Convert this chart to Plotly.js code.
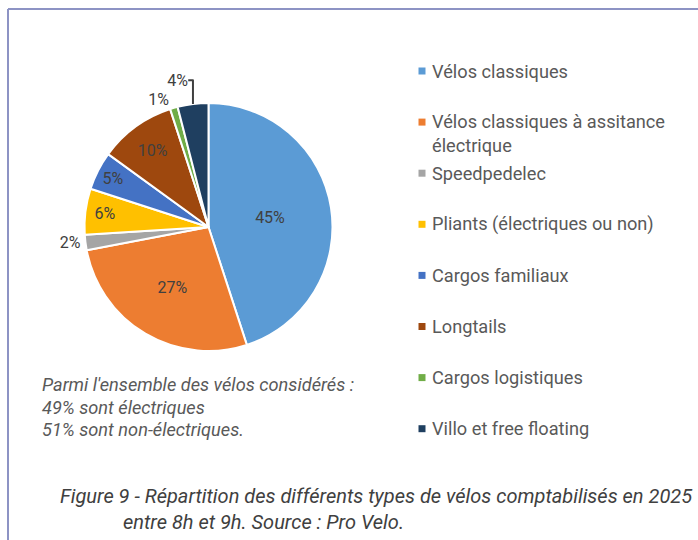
<!DOCTYPE html>
<html>
<head>
<meta charset="utf-8">
<script src="https://cdn.plot.ly/plotly-3.0.1.min.js"></script>
<style>html,body{margin:0;padding:0;background:#fff;}#chart{width:698px;height:540px;}</style>
</head>
<body>
<div id="chart"></div>
<script>
// ---- data ----
const categories = [
  "Vélos classiques",
  "Vélos classiques à assitance électrique",
  "Speedpedelec",
  "Pliants (électriques ou non)",
  "Cargos familiaux",
  "Longtails",
  "Cargos logistiques",
  "Villo et free floating"
];
const legendLabels = [
  "Vélos classiques",
  "Vélos classiques à assitance<br>électrique",
  "Speedpedelec",
  "Pliants (électriques ou non)",
  "Cargos familiaux",
  "Longtails",
  "Cargos logistiques",
  "Villo et free floating"
];
const shares = [45, 27, 2, 6, 5, 10, 1, 4];
const colors = ["#5B9BD5", "#ED7D31", "#A5A5A5", "#FFC000", "#4472C4", "#9E480E", "#70AD47", "#1F3F60"];
const labelPositions = ["inside", "inside", "outside", "inside", "inside", "inside", "outside", "outside"];
const noteLines = [
  "Parmi l'ensemble des vélos considérés :",
  "49% sont électriques",
  "51% sont non-électriques."
];
const captionLines = [
  "Figure 9 - Répartition des différents types de vélos comptabilisés en 2025",
  "entre 8h et 9h. Source : Pro Velo."
];

// ---- layout helpers ----
const W = 698, H = 540;
const px = x => x / W;
const py = y => 1 - y / H;
const FONT = "Roboto, 'Open Sans', sans-serif";

const cx = 208.5, cy = 227, r = 124;

const trace = {
  type: "pie",
  labels: categories,
  values: shares,
  sort: false,
  direction: "clockwise",
  rotation: 0,
  marker: { colors: colors, line: { color: "#ffffff", width: 2 } },
  textinfo: "percent",
  textposition: labelPositions,
  insidetextorientation: "horizontal",
  textfont: { family: FONT, size: 16, color: "#404040" },
  insidetextfont: { family: FONT, size: 16, color: "#404040" },
  outsidetextfont: { family: FONT, size: 16, color: "#404040" },
  domain: { x: [px(cx - r), px(cx + r)], y: [py(cy + r), py(cy - r)] },
  showlegend: false,
  hoverinfo: "label+percent"
};

const shapes = [
  { type: "line", xref: "paper", yref: "paper", x0: px(8), x1: px(698), y0: py(9), y1: py(9), line: { color: "#8D93C4", width: 2 } },
  { type: "line", xref: "paper", yref: "paper", x0: px(8), x1: px(8), y0: py(9), y1: py(540), line: { color: "#8D93C4", width: 2 } }
];
const annotations = [];

// manual legend built from the categories/colors
const legFont = 18.2, legLH = 22, legStart = 71, legStep = 51.1;
legendLabels.forEach((lab, i) => {
  const yc = legStart + i * legStep;
  shapes.push({ type: "rect", xref: "paper", yref: "paper",
    x0: px(418.5), x1: px(425.5), y0: py(yc - 3.5), y1: py(yc + 3.5),
    fillcolor: colors[i], line: { width: 0 } });
  const nLines = lab.split("<br>").length;
  annotations.push({ xref: "paper", yref: "paper", x: px(430), y: py(yc + (nLines - 1) * legLH / 2),
    xanchor: "left", yanchor: "middle", align: "left", showarrow: false, text: lab,
    font: { family: FONT, size: legFont, color: "#595959" } });
});

// note text
noteLines.forEach((t, i) => {
  annotations.push({ xref: "paper", yref: "paper", x: px(40), y: py(385 + i * 22),
    xanchor: "left", yanchor: "middle", showarrow: false, text: "<i>" + t + "</i>",
    font: { family: FONT, size: 18.2, color: "#595959" } });
});

// caption
annotations.push({ xref: "paper", yref: "paper", x: px(58), y: py(496),
  xanchor: "left", yanchor: "middle", showarrow: false, text: "<i>" + captionLines[0] + "</i>",
  font: { family: FONT, size: 20, color: "#404040" } });
annotations.push({ xref: "paper", yref: "paper", x: px(121), y: py(522),
  xanchor: "left", yanchor: "middle", showarrow: false, text: "<i>" + captionLines[1] + "</i>",
  font: { family: FONT, size: 20, color: "#404040" } });

const layout = {
  width: W, height: H,
  margin: { l: 0, r: 0, t: 0, b: 0 },
  paper_bgcolor: "#ffffff",
  plot_bgcolor: "#ffffff",
  font: { family: FONT, color: "#595959" },
  showlegend: false,
  shapes: shapes,
  annotations: annotations
};

Plotly.newPlot("chart", [trace], layout, { displayModeBar: false, staticPlot: true });
</script>
</body>
</html>
